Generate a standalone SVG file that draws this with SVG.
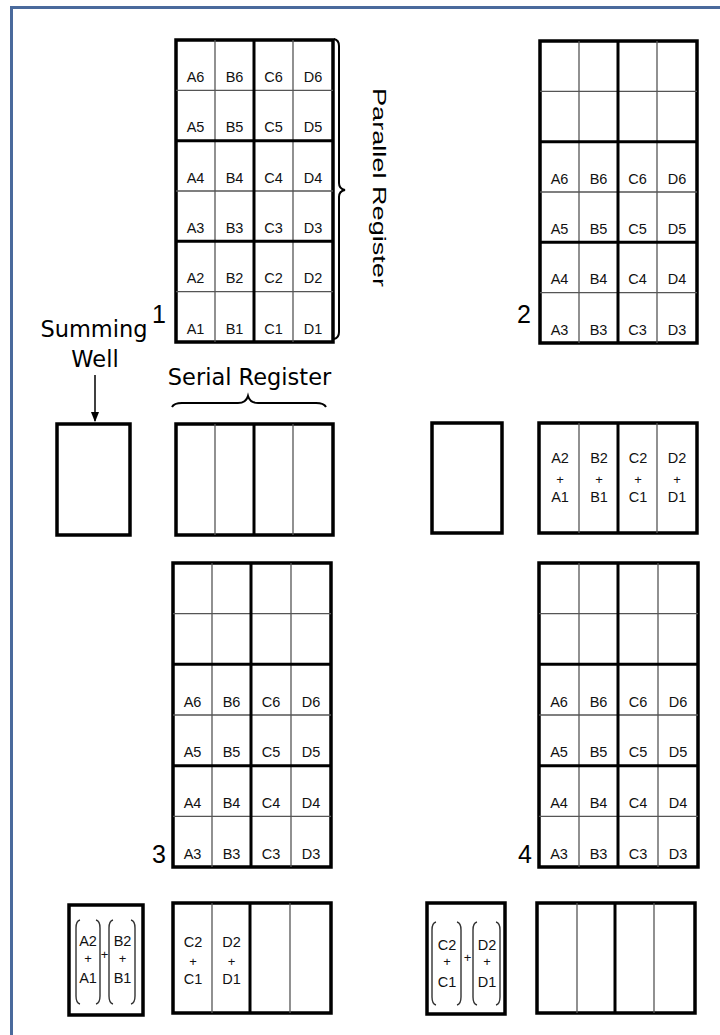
<svg xmlns="http://www.w3.org/2000/svg" width="720" height="1035" viewBox="0 0 720 1035">
<style>
.frame{fill:none;stroke:#4a6a9c;stroke-width:3}
.box{fill:#fff;stroke:#000;stroke-width:3.5}
.thin{stroke:#555;stroke-width:1.3}
.thick{stroke:#000;stroke-width:3}
.lbl{font-family:"Liberation Sans",Arial,sans-serif;font-size:14.5px;fill:#111;text-anchor:middle}
.plus{font-family:"Liberation Sans",Arial,sans-serif;font-size:13px;fill:#111;text-anchor:middle}
.num{font-family:"Liberation Sans",Arial,sans-serif;font-size:25px;fill:#000}
.cap{font-family:"DejaVu Sans",Verdana,sans-serif;font-size:22.5px;fill:#000;text-anchor:middle}
.brace{fill:none;stroke:#000;stroke-width:2}
.paren{fill:none;stroke:#333;stroke-width:1.4}
</style>
<defs>
<marker id="arr" viewBox="0 0 10 10" refX="9" refY="5" markerWidth="7" markerHeight="7" orient="auto"><path d="M0,1 L10,5 L0,9 z" fill="#000"/></marker>
</defs>
<rect class="frame" x="11.5" y="7.5" width="800" height="1100"/>

<g id="grid1">
<rect class="box" x="176" y="40" width="157" height="302"/>
<line class="thin" x1="215" y1="40" x2="215" y2="342"/><line class="thin" x1="293" y1="40" x2="293" y2="342"/>
<line class="thin" x1="176" y1="90.3" x2="333" y2="90.3"/><line class="thin" x1="176" y1="191" x2="333" y2="191"/><line class="thin" x1="176" y1="291.7" x2="333" y2="291.7"/>
<line class="thick" x1="254" y1="40" x2="254" y2="342"/>
<line class="thick" x1="176" y1="140.7" x2="333" y2="140.7"/><line class="thick" x1="176" y1="241.3" x2="333" y2="241.3"/>
<g class="lbl">
<text x="195.5" y="82">A6</text><text x="234.5" y="82">B6</text><text x="273.5" y="82">C6</text><text x="313" y="82">D6</text>
<text x="195.5" y="132.3">A5</text><text x="234.5" y="132.3">B5</text><text x="273.5" y="132.3">C5</text><text x="313" y="132.3">D5</text>
<text x="195.5" y="182.6">A4</text><text x="234.5" y="182.6">B4</text><text x="273.5" y="182.6">C4</text><text x="313" y="182.6">D4</text>
<text x="195.5" y="232.9">A3</text><text x="234.5" y="232.9">B3</text><text x="273.5" y="232.9">C3</text><text x="313" y="232.9">D3</text>
<text x="195.5" y="283.2">A2</text><text x="234.5" y="283.2">B2</text><text x="273.5" y="283.2">C2</text><text x="313" y="283.2">D2</text>
<text x="195.5" y="333.5">A1</text><text x="234.5" y="333.5">B1</text><text x="273.5" y="333.5">C1</text><text x="313" y="333.5">D1</text>
</g>
<text class="num" x="166" y="323" text-anchor="end">1</text>
</g>

<g id="parallel-register-label">
<path class="brace" d="M334,39 Q339,40 339,46 L339,183 Q339,189 345,190 Q339,191 339,197 L339,332 Q339,338 334,339"/>
<text transform="translate(373,88) rotate(90)" x="0" y="0" font-family="Liberation Sans, Arial, sans-serif" font-size="18" textLength="199" lengthAdjust="spacingAndGlyphs" fill="#000">Parallel Register</text>
</g>

<g id="grid2">
<rect class="box" x="540" y="41" width="157" height="302"/>
<line class="thin" x1="579" y1="41" x2="579" y2="343"/><line class="thin" x1="657" y1="41" x2="657" y2="343"/>
<line class="thin" x1="540" y1="91.3" x2="697" y2="91.3"/><line class="thin" x1="540" y1="192" x2="697" y2="192"/><line class="thin" x1="540" y1="292.7" x2="697" y2="292.7"/>
<line class="thick" x1="618" y1="41" x2="618" y2="343"/>
<line class="thick" x1="540" y1="141.7" x2="697" y2="141.7"/><line class="thick" x1="540" y1="242.3" x2="697" y2="242.3"/>
<g class="lbl">
<text x="559.5" y="183.5">A6</text><text x="598.5" y="183.5">B6</text><text x="637.5" y="183.5">C6</text><text x="677" y="183.5">D6</text>
<text x="559.5" y="233.8">A5</text><text x="598.5" y="233.8">B5</text><text x="637.5" y="233.8">C5</text><text x="677" y="233.8">D5</text>
<text x="559.5" y="284.2">A4</text><text x="598.5" y="284.2">B4</text><text x="637.5" y="284.2">C4</text><text x="677" y="284.2">D4</text>
<text x="559.5" y="334.5">A3</text><text x="598.5" y="334.5">B3</text><text x="637.5" y="334.5">C3</text><text x="677" y="334.5">D3</text>
</g>
<text class="num" x="531" y="323" text-anchor="end">2</text>
</g>

<g id="summing-well-label">
<text class="cap" x="94" y="337">Summing</text>
<text class="cap" x="95" y="367">Well</text>
</g>

<g id="serial-register-label">
<text class="cap" x="249.5" y="385">Serial Register</text>
<path class="brace" d="M172,407 Q174,403 182,403 L238,403 Q246,403 248,396 Q250,403 258,403 L316,403 Q324,403 326,407"/>
</g>

<g id="summing-well-1">
<rect class="box" x="57" y="424" width="73" height="111"/>
</g>

<g id="serial-register-1">
<rect class="box" x="176" y="424" width="157" height="111"/>
<line class="thin" x1="215" y1="424" x2="215" y2="535"/><line class="thin" x1="293" y1="424" x2="293" y2="535"/>
<line class="thick" x1="254" y1="424" x2="254" y2="535"/>
</g>

<g id="summing-well-2">
<rect class="box" x="432" y="423" width="70" height="110"/>
</g>

<g id="serial-register-2">
<rect class="box" x="539" y="423" width="158" height="110"/>
<line class="thin" x1="579" y1="423" x2="579" y2="533"/><line class="thin" x1="657" y1="423" x2="657" y2="533"/>
<line class="thick" x1="618" y1="423" x2="618" y2="533"/>
<g class="lbl">
<text x="560" y="463">A2</text><text x="599" y="463">B2</text><text x="638" y="463">C2</text><text x="677" y="463">D2</text>
<text x="560" y="502">A1</text><text x="599" y="502">B1</text><text x="638" y="502">C1</text><text x="677" y="502">D1</text>
</g>
<g class="plus">
<text x="560" y="483.5">+</text><text x="599" y="483.5">+</text><text x="638" y="483.5">+</text><text x="677" y="483.5">+</text>
</g>
</g>

<g id="grid3">
<rect class="box" x="173" y="563" width="158" height="304"/>
<line class="thin" x1="212" y1="563" x2="212" y2="867"/><line class="thin" x1="291" y1="563" x2="291" y2="867"/>
<line class="thin" x1="173" y1="613.7" x2="331" y2="613.7"/><line class="thin" x1="173" y1="715" x2="331" y2="715"/><line class="thin" x1="173" y1="816.3" x2="331" y2="816.3"/>
<line class="thick" x1="251" y1="563" x2="251" y2="867"/>
<line class="thick" x1="173" y1="664.3" x2="331" y2="664.3"/><line class="thick" x1="173" y1="765.7" x2="331" y2="765.7"/>
<g class="lbl">
<text x="192.5" y="706.5">A6</text><text x="231.5" y="706.5">B6</text><text x="271" y="706.5">C6</text><text x="311" y="706.5">D6</text>
<text x="192.5" y="757.2">A5</text><text x="231.5" y="757.2">B5</text><text x="271" y="757.2">C5</text><text x="311" y="757.2">D5</text>
<text x="192.5" y="807.8">A4</text><text x="231.5" y="807.8">B4</text><text x="271" y="807.8">C4</text><text x="311" y="807.8">D4</text>
<text x="192.5" y="858.5">A3</text><text x="231.5" y="858.5">B3</text><text x="271" y="858.5">C3</text><text x="311" y="858.5">D3</text>
</g>
<text class="num" x="166" y="863" text-anchor="end">3</text>
</g>

<g id="grid4">
<rect class="box" x="539" y="563" width="159" height="304"/>
<line class="thin" x1="579" y1="563" x2="579" y2="867"/><line class="thin" x1="658" y1="563" x2="658" y2="867"/>
<line class="thin" x1="539" y1="613.7" x2="698" y2="613.7"/><line class="thin" x1="539" y1="715" x2="698" y2="715"/><line class="thin" x1="539" y1="816.3" x2="698" y2="816.3"/>
<line class="thick" x1="618" y1="563" x2="618" y2="867"/>
<line class="thick" x1="539" y1="664.3" x2="698" y2="664.3"/><line class="thick" x1="539" y1="765.7" x2="698" y2="765.7"/>
<g class="lbl">
<text x="559" y="706.5">A6</text><text x="598.5" y="706.5">B6</text><text x="638" y="706.5">C6</text><text x="678" y="706.5">D6</text>
<text x="559" y="757.2">A5</text><text x="598.5" y="757.2">B5</text><text x="638" y="757.2">C5</text><text x="678" y="757.2">D5</text>
<text x="559" y="807.8">A4</text><text x="598.5" y="807.8">B4</text><text x="638" y="807.8">C4</text><text x="678" y="807.8">D4</text>
<text x="559" y="858.5">A3</text><text x="598.5" y="858.5">B3</text><text x="638" y="858.5">C3</text><text x="678" y="858.5">D3</text>
</g>
<text class="num" x="532" y="863" text-anchor="end">4</text>
</g>

<g id="summing-well-3">
<rect class="box" x="69" y="905" width="74" height="110"/>
<path class="paren" d="M80,920 Q76,921 76,928 L76,996 Q76,1003 80,1004"/>
<path class="paren" d="M96,920 Q100,921 100,928 L100,996 Q100,1003 96,1004"/>
<path class="paren" d="M113,920 Q109,921 109,928 L109,996 Q109,1003 113,1004"/>
<path class="paren" d="M131,920 Q135,921 135,928 L135,996 Q135,1003 131,1004"/>
<g class="lbl">
<text x="88" y="946">A2</text><text x="88" y="983">A1</text>
<text x="122.5" y="946">B2</text><text x="122.5" y="983">B1</text>
</g>
<g class="plus">
<text x="88" y="963">+</text><text x="122.5" y="963">+</text><text x="104.5" y="959">+</text>
</g>
</g>

<g id="serial-register-3">
<rect class="box" x="173" y="903" width="158" height="110"/>
<line class="thin" x1="212" y1="903" x2="212" y2="1013"/><line class="thin" x1="290" y1="903" x2="290" y2="1013"/>
<line class="thick" x1="250" y1="903" x2="250" y2="1013"/>
<g class="lbl">
<text x="193" y="947">C2</text><text x="193" y="984">C1</text>
<text x="231.5" y="947">D2</text><text x="231.5" y="984">D1</text>
</g>
<g class="plus">
<text x="193" y="966">+</text><text x="231.5" y="966">+</text>
</g>
</g>

<g id="summing-well-4">
<rect class="box" x="427" y="903" width="78" height="111"/>
<path class="paren" d="M436,922 Q432,923 432,930 L432,997 Q432,1004 436,1005"/>
<path class="paren" d="M457,922 Q461,923 461,930 L461,997 Q461,1004 457,1005"/>
<path class="paren" d="M477,922 Q473,923 473,930 L473,997 Q473,1004 477,1005"/>
<path class="paren" d="M496,922 Q500,923 500,930 L500,997 Q500,1004 496,1005"/>
<g class="lbl">
<text x="447" y="950">C2</text><text x="447" y="987">C1</text>
<text x="487" y="950">D2</text><text x="487" y="987">D1</text>
</g>
<g class="plus">
<text x="447" y="966">+</text><text x="487" y="966">+</text><text x="467.5" y="962">+</text>
</g>
</g>

<g id="serial-register-4">
<rect class="box" x="537" y="903" width="158" height="110"/>
<line class="thin" x1="577" y1="903" x2="577" y2="1013"/><line class="thin" x1="654" y1="903" x2="654" y2="1013"/>
<line class="thick" x1="615" y1="903" x2="615" y2="1013"/>
</g>

<g id="connectors">
<line x1="95" y1="375" x2="95" y2="421" stroke="#000" stroke-width="1.5" marker-end="url(#arr)"/>
</g>
</svg>
